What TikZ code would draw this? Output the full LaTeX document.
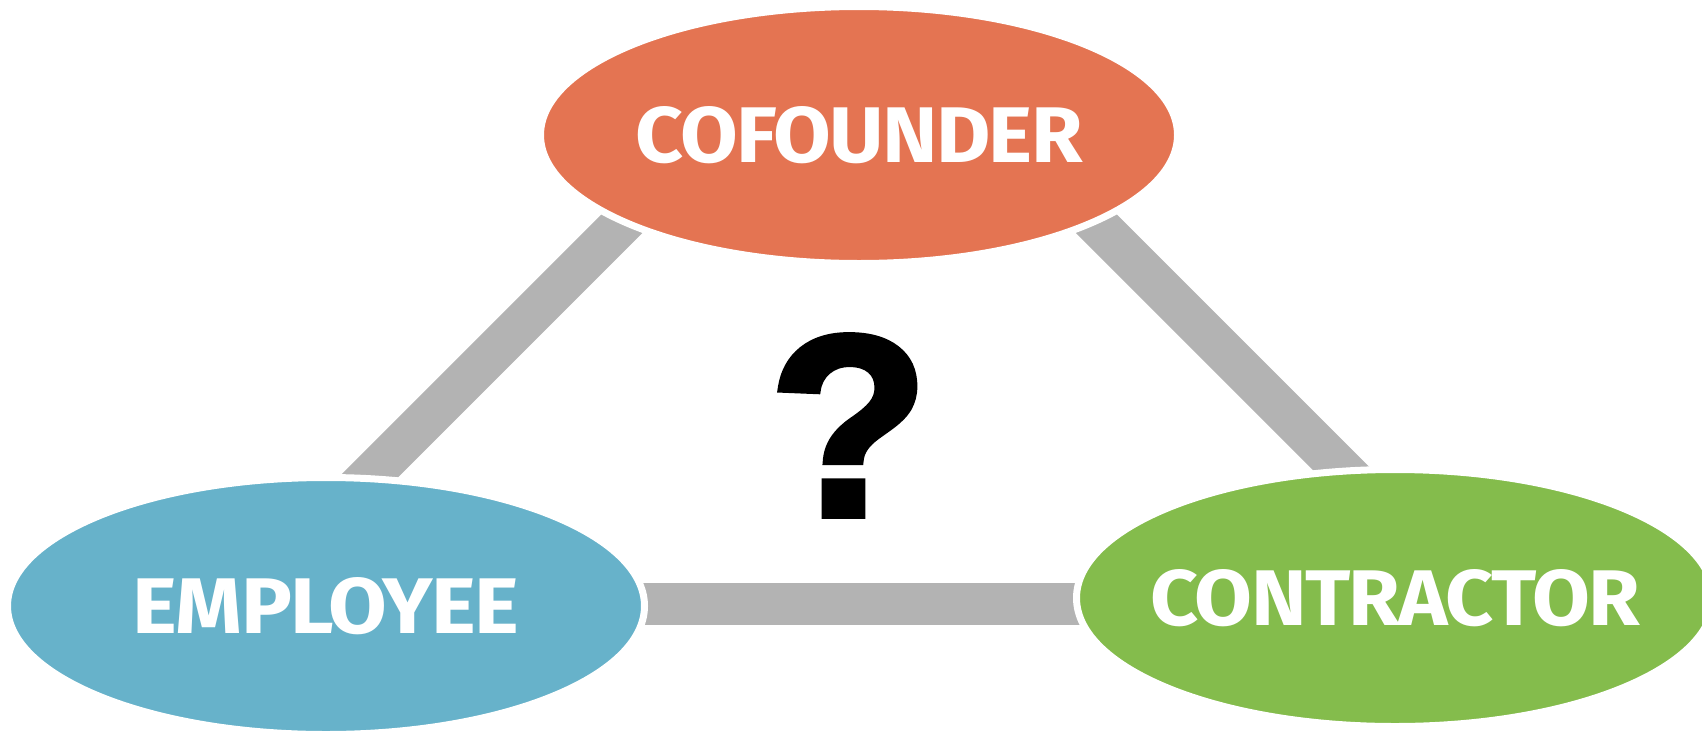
\documentclass[tikz,border=0pt]{standalone}
\usepackage{fontspec}
\setmainfont{Fira Sans}
\newfontfamily\qfont{Liberation Sans Bold}[FakeBold=2.5]
\usetikzlibrary{shapes.geometric,backgrounds}
\definecolor{cofC}{RGB}{228,116,82}
\definecolor{empC}{RGB}{103,178,202}
\definecolor{conC}{RGB}{132,188,76}
\definecolor{barC}{RGB}{179,179,179}
\newcommand{\fitlabel}[3]{\makebox[0pt]{\resizebox{#1}{#2}{\bfseries\addfontfeatures{LetterSpace=-2}#3}}}
\begin{document}
\begin{tikzpicture}[x=1pt,y=-1pt,
  role/.style={ellipse, inner sep=0pt, minimum width=637pt, minimum height=257pt,
               draw=white, line width=7pt, text=white},
  bar/.style={draw=barC, line width=42pt}]
\useasboundingbox (0,0) rectangle (1702,731);
\node[role, fill=cofC] (cof) at (859,135) {\fitlabel{447pt}{56pt}{COFOUNDER}};
\node[role, fill=empC] (emp) at (326,606) {\fitlabel{386pt}{56pt}{EMPLOYEE}};
\node[role, fill=conC] (con) at (1395,598) {\fitlabel{490pt}{56pt}{CONTRACTOR}};
\node[inner sep=0pt] (q) at (849,425.5) {\resizebox{160pt}{180pt}{\qfont ?}};
\begin{scope}[on background layer]
  \coordinate (lt) at (710.6,135);
  \coordinate (lb) at (241.6,604);
  \coordinate (rt) at (1007.6,135);
  \coordinate (rb) at (1476.6,604);
  \coordinate (hl) at (326,604);
  \coordinate (hr) at (1395,604);
  \draw[bar] (lt) -- (lb);
  \draw[bar] (rt) -- (rb);
  \draw[bar] (hl) -- (hr);
\end{scope}
\end{tikzpicture}
\end{document}
